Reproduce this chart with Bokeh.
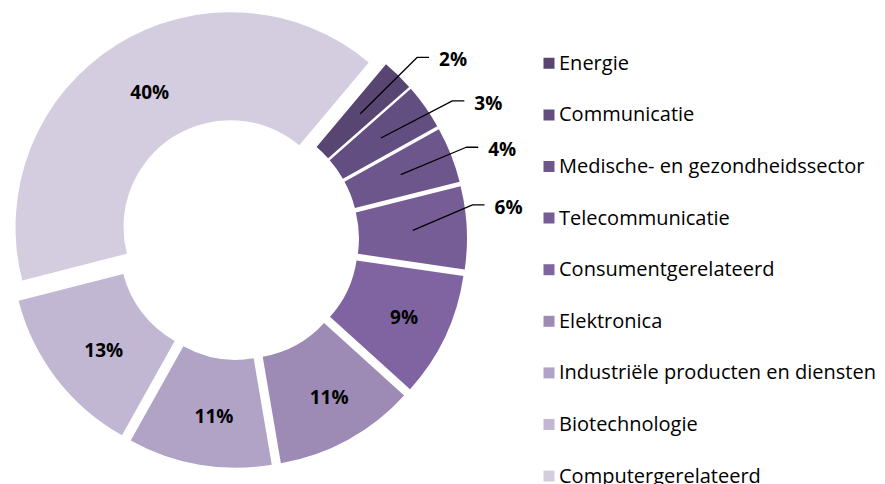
import numpy as np
from bokeh.plotting import figure
from bokeh.models import Range1d, ColumnDataSource
from bokeh.core.properties import value
from bokeh.embed import file_html
from bokeh.resources import INLINE

# ---------------- data ----------------
categories = [
    "Energie",
    "Communicatie",
    "Medische- en gezondheidssector",
    "Telecommunicatie",
    "Consumentgerelateerd",
    "Elektronica",
    "Industriële producten en diensten",
    "Biotechnologie",
    "Computergerelateerd",
]
shares = [2.4, 3.4, 4.2, 6.2, 9.4, 10.6, 10.8, 12.9, 40.1]
labels = ["2%", "3%", "4%", "6%", "9%", "11%", "11%", "13%", "40%"]
colors = [
    "#594572", "#624e80", "#6c568c", "#765d96", "#8064a2",
    "#9d8ab5", "#b1a3c6", "#c1b7d2", "#d3cddf",
]

# ---------------- layout / style ----------------
W, H = 885, 484
PAGE_H = 484
CX, CY_SCREEN = 237.5, 238.5
R_OUT, R_IN = 215, 107
EXPLODE = 14
START_DEG = 50.0
LABEL_R = 163
LABEL_DX, LABEL_DY = 6, -3        # small nudge of the inside labels
N_OUTSIDE = 4                     # slices whose label sits outside with a leader line
leader_angle = [45.4, 32.8, 21.9, 8.3]
leader_radius = [255, 255, 246, 237]
LEG_X, LEG_Y0, LEG_DY = 548.5, 62.8, 51.6


def sy(y_screen):
    return PAGE_H - y_screen


CY = sy(CY_SCREEN)

frac = np.array(shares) / np.sum(shares)
cum = np.cumsum(frac)
before = cum - frac
end_deg = START_DEG - before * 360.0
start_deg = START_DEG - cum * 360.0
mid = np.radians((start_deg + end_deg) / 2.0)
ox = CX + EXPLODE * np.cos(mid)
oy = CY + EXPLODE * np.sin(mid)

p = figure(
    width=W, height=H,
    x_range=Range1d(0, W), y_range=Range1d(PAGE_H - H, PAGE_H),
    output_backend="svg", toolbar_location=None,
    x_axis_location=None, y_axis_location=None,
    min_border=0,
)
p.grid.visible = False
p.outline_line_color = None
p.background_fill_color = "white"
p.border_fill_color = "white"

src = ColumnDataSource(dict(
    x=ox, y=oy,
    start=np.radians(start_deg), end=np.radians(end_deg),
    color=colors,
))
p.annular_wedge(x="x", y="y", inner_radius=R_IN, outer_radius=R_OUT,
                start_angle="start", end_angle="end",
                fill_color="color", line_color=None, source=src)

# inside labels
ins = range(N_OUTSIDE, len(shares))
p.text(x=[ox[i] + LABEL_R * np.cos(mid[i]) + LABEL_DX for i in ins],
       y=[oy[i] + LABEL_R * np.sin(mid[i]) + LABEL_DY for i in ins],
       text=[labels[i] for i in ins],
       text_font=value("Open Sans"), text_font_style="bold",
       text_font_size="19px", text_color="black",
       text_align="center", text_baseline="middle")

# outside labels with leader lines
xs, ys, tx, ty, tt = [], [], [], [], []
for i in range(N_OUTSIDE):
    x0 = ox[i] + (R_IN + R_OUT) / 2 * np.cos(mid[i])
    y0 = oy[i] + (R_IN + R_OUT) / 2 * np.sin(mid[i])
    a = np.radians(leader_angle[i])
    ex = CX + leader_radius[i] * np.cos(a)
    ey = CY + leader_radius[i] * np.sin(a)
    xs.append([x0, ex, ex + 12])
    ys.append([y0, ey, ey])
    tx.append(ex + 22)
    ty.append(ey - 2)
    tt.append(labels[i])
p.multi_line(xs=xs, ys=ys, line_color="black", line_width=1.3)
p.text(x=tx, y=ty, text=tt,
       text_font=value("Open Sans"), text_font_style="bold",
       text_font_size="19px", text_color="black",
       text_align="left", text_baseline="middle")

# legend
ly = [sy(LEG_Y0 + LEG_DY * i) for i in range(len(categories))]
p.rect(x=[LEG_X] * len(categories), y=ly, width=11, height=11,
       fill_color=colors, line_color=None)
p.text(x=[LEG_X + 10] * len(categories), y=[v + 1 for v in ly], text=categories,
       text_font=value("Open Sans"), text_font_size="20px", text_color="black",
       text_align="left", text_baseline="middle")

open("out.html", "w").write(file_html(p, INLINE))
